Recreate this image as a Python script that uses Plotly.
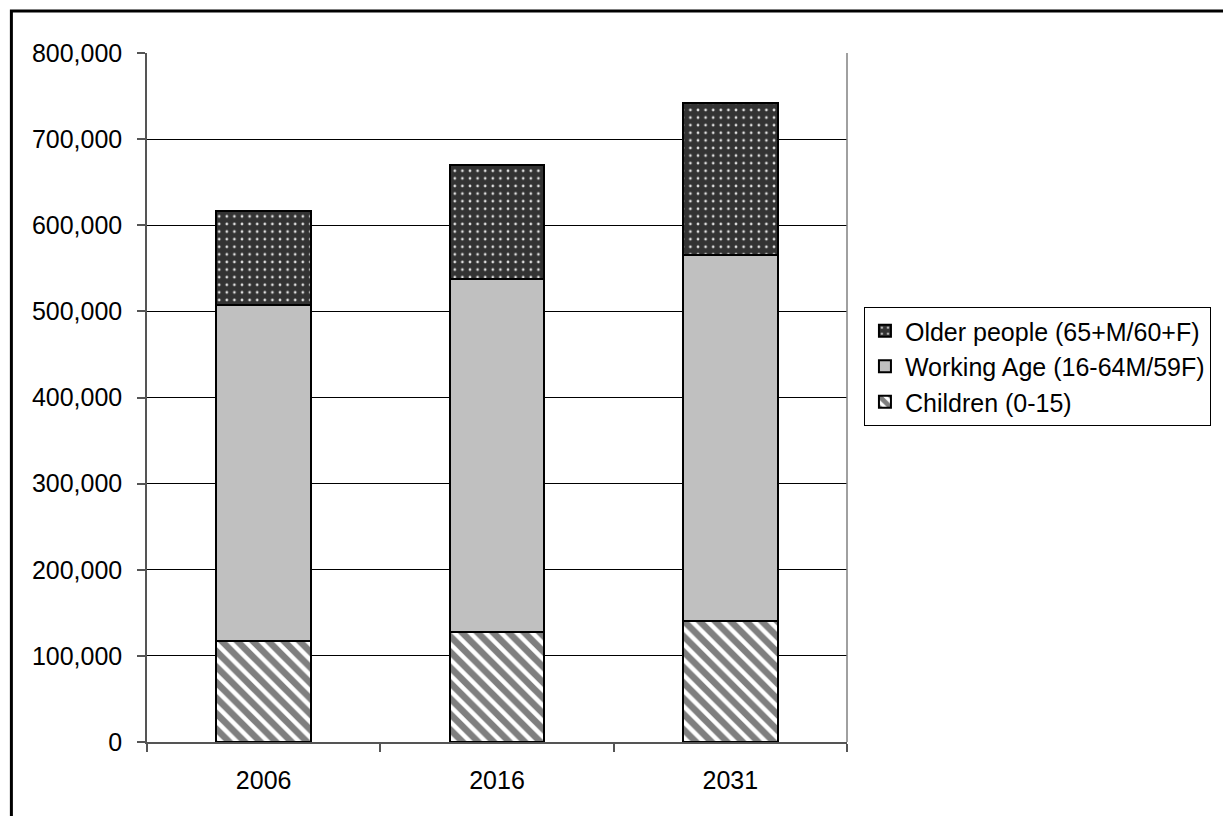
import plotly.graph_objects as go

years = ["2006", "2016", "2031"]
children = [117500, 128000, 140000]
working = [389500, 410000, 425000]
older = [109000, 132000, 177000]

series_names = ["Children (0-15)", "Working Age (16-64M/59F)", "Older people (65+M/60+F)"]

L, R, T, B = 147, 849, 53, 742
W, H = 1223, 816

fig = go.Figure()
fig.add_trace(go.Bar(
    x=years, y=children, name=series_names[0],
    marker=dict(color="white", line=dict(color="black", width=2),
                pattern=dict(shape="\\", fgcolor="black", bgcolor="white", size=11, solidity=0.6)),
))
fig.add_trace(go.Bar(
    x=years, y=working, name=series_names[1],
    marker=dict(color="#C0C0C0", line=dict(color="black", width=2)),
))
fig.add_trace(go.Bar(
    x=years, y=older, name=series_names[2],
    marker=dict(color="#333333", line=dict(color="black", width=2),
                pattern=dict(shape=".", fgcolor="#e0e0e0", bgcolor="#333333", size=7.6, solidity=0.1, fillmode="replace")),
))

fig.update_layout(
    width=W, height=H,
    barmode="stack", bargap=0.594,
    paper_bgcolor="white", plot_bgcolor="white",
    margin=dict(l=L, r=W - R, t=T, b=H - B, pad=0),
    font=dict(family="Liberation Sans, Arial, sans-serif", size=25, color="black"),
    showlegend=True,
    legend=dict(
        x=(866 - L) / (R - L), y=(B - 307) / (B - T), xanchor="left", yanchor="top",
        traceorder="reversed", bordercolor="black", borderwidth=1, bgcolor="white",
        font=dict(size=25), itemwidth=30, tracegroupgap=0,
    ),
    xaxis=dict(
        type="category", showgrid=False, showline=True, linecolor="#555555", linewidth=1.5,
        mirror=False, ticks="outside", ticklen=8, tickcolor="#555555", tickwidth=1.5,
        tickson="boundaries", ticklabelstandoff=15, tickfont=dict(size=25),
    ),
    yaxis=dict(
        range=[0, 800000], dtick=100000, tickformat=",d",
        showgrid=True, gridcolor="black", gridwidth=1,
        showline=True, linecolor="#555555", linewidth=1.5,
        ticks="outside", ticklen=8, tickcolor="#555555", tickwidth=1.5,
        ticklabelstandoff=10, zeroline=False, tickfont=dict(size=25),
    ),
    shapes=[
        dict(type="line", xref="paper", yref="paper", x0=1, x1=1, y0=0, y1=1,
             line=dict(color="#808080", width=1.5)),
        dict(type="rect", xref="paper", yref="paper",
             x0=(11 - L) / (R - L), x1=(1240 - L) / (R - L),
             y0=(B - 830) / (B - T), y1=(B - 11) / (B - T),
             line=dict(color="black", width=3), fillcolor="rgba(0,0,0,0)", layer="above"),
    ],
)

fig.write_html("out.html")
